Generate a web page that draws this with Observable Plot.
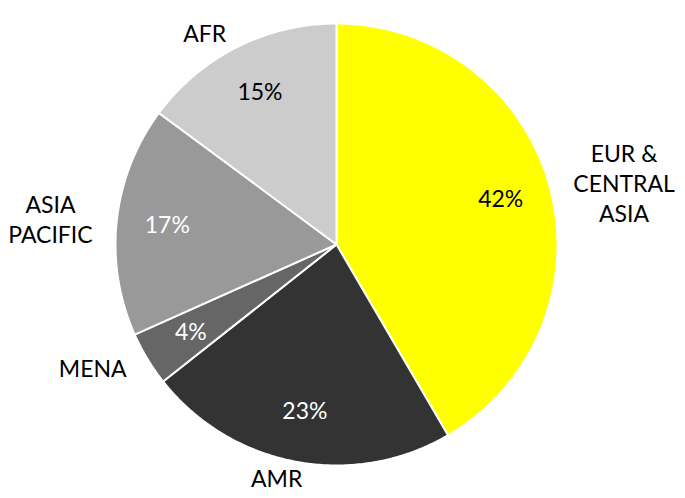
<!DOCTYPE html>
<html>
<head>
<meta charset="utf-8">
<script src="https://cdn.jsdelivr.net/npm/d3@7"></script>
<script src="https://cdn.jsdelivr.net/npm/@observablehq/plot@0.6"></script>
<style>
  body { margin: 0; background: #fff; }
</style>
</head>
<body>
<div id="chart"></div>
<script>
// Share of members by region (clockwise from 12 o'clock)
const regions = ["EUR & CENTRAL ASIA", "AMR", "MENA", "ASIA PACIFIC", "AFR"];
const regionLabels = ["EUR &\nCENTRAL\nASIA", "AMR", "MENA", "ASIA\nPACIFIC", "AFR"];
const shares = [42, 23, 4, 17, 15];
const palette = ["#ffff00", "#333333", "#666666", "#999999", "#cccccc"];

const W = 685, H = 498;
const cx = 336, cy = 244, R = 221; // pie centre and radius in pixels
const fontSize = 23, lineHeight = 1.3;
const fontFamily = "Lato, 'Liberation Sans', sans-serif";

// Angles from d3.pie (clockwise from top), turned into unit-circle geometry
const arcs = d3.pie().sort(null).value(d => d)(shares);

const slicePoints = [];
arcs.forEach((a, i) => {
  slicePoints.push({region: regions[i], x: 0, y: 0});
  const steps = Math.max(2, Math.ceil((a.endAngle - a.startAngle) / 0.01));
  for (let k = 0; k <= steps; k++) {
    const t = a.startAngle + (a.endAngle - a.startAngle) * k / steps;
    slicePoints.push({region: regions[i], x: Math.sin(t), y: Math.cos(t)});
  }
});

const mid = a => (a.startAngle + a.endAngle) / 2;

// Percent labels inside the slices
const inner = arcs.map((a, i) => {
  const m = mid(a);
  return {
    x: 0.77 * Math.sin(m),
    y: 0.77 * Math.cos(m),
    text: `${shares[i]}%`,
    dark: d3.lab(palette[i]).l > 70
  };
});

// Region names outside the pie: anchored just past the rim at the slice's
// mid-angle, then shifted sideways by half the text width so the block
// sits clear of the circle.
const ctx = document.createElement("canvas").getContext("2d");
ctx.font = `${fontSize}px ${fontFamily}`;
const outer = arcs.map((a, i) => {
  const m = mid(a), s = Math.sin(m), c = Math.cos(m);
  const lines = regionLabels[i].split("\n");
  const w = d3.max(lines, l => ctx.measureText(l).width);
  const px = 1.11 * R * s + Math.sign(s) * (w / 2) * Math.min(1, Math.abs(s) * 3);
  const py = 1.03 * R * c + c * fontSize * 0.42;
  return {x: px / R, y: py / R, text: regionLabels[i]};
});

const chart = Plot.plot({
  width: W,
  height: H,
  margin: 0,
  x: {domain: [-cx / R, (W - cx) / R], axis: null},
  y: {domain: [-(H - cy) / R, cy / R], axis: null},
  color: {domain: regions, range: palette},
  style: {background: "#fff"},
  marks: [
    Plot.line(slicePoints, {
      x: "x", y: "y", z: "region",
      fill: "region", stroke: "#fff", strokeWidth: 2,
      strokeLinejoin: "round", curve: "linear-closed"
    }),
    Plot.text(inner.filter(d => d.dark), {x: "x", y: "y", text: "text", fill: "#000", fontFamily, fontSize}),
    Plot.text(inner.filter(d => !d.dark), {x: "x", y: "y", text: "text", fill: "#fff", fontFamily, fontSize}),
    Plot.text(outer, {
      x: "x", y: "y", text: "text",
      textAnchor: "middle", lineAnchor: "middle", lineHeight,
      fill: "#000", fontFamily, fontSize
    })
  ]
});

document.getElementById("chart").appendChild(chart);
</script>
</body>
</html>
